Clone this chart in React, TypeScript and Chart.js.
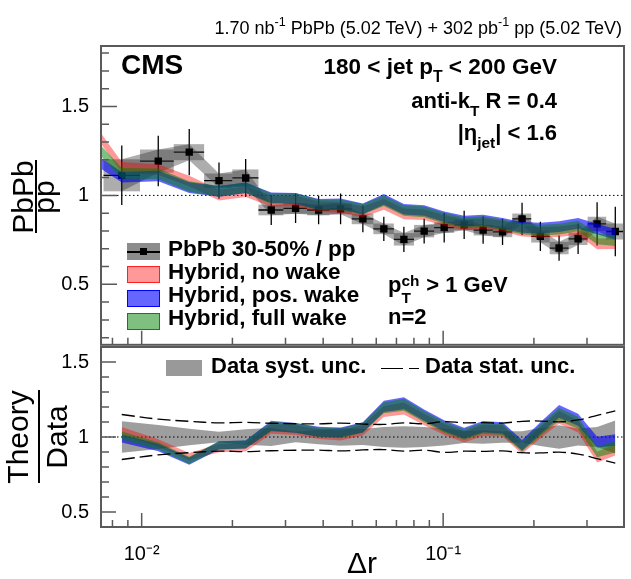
"use client";

import { useEffect, useRef } from "react";
import type { CSSProperties, ReactNode } from "react";
import { Chart, registerables } from "chart.js";

Chart.register(...registerables);

// Δr bin centres and the PbPb 30-50% / pp ratio
const deltaR = [
  0.00859, 0.01135, 0.01438, 0.01805, 0.02213, 0.0269, 0.0324, 0.03863, 0.04569, 0.05416, 0.06357, 0.07409,
  0.0865, 0.1008, 0.1174, 0.1357, 0.1574, 0.1827, 0.2101, 0.2424, 0.2803, 0.3241, 0.3724,
];
const ratioPbPb = [
  1.113, 1.193, 1.243, 1.083, 1.098, 0.918, 0.927, 0.918, 0.924, 0.868, 0.812, 0.753, 0.799, 0.819, 0.834, 0.805,
  0.795, 0.868, 0.77, 0.704, 0.756, 0.84, 0.797,
];
const statUnc = [
  0.167, 0.142, 0.13, 0.102, 0.107, 0.084, 0.082, 0.08, 0.086, 0.075, 0.068, 0.071, 0.07, 0.084, 0.079, 0.077, 0.074,
  0.091, 0.082, 0.071, 0.086, 0.121, 0.139,
];
const systUnc = [
  0.09, 0.065, 0.045, 0.04, 0.048, 0.03, 0.03, 0.03, 0.03, 0.03, 0.03, 0.035, 0.035, 0.03, 0.03, 0.03, 0.03, 0.03,
  0.035, 0.035, 0.035, 0.04, 0.045,
];
// relative syst. unc. shown around 1 in the ratio panel
const systRelUnc = [
  0.105, 0.08, 0.055, 0.035, 0.051, 0.06, 0.035, 0.048, 0.058, 0.053, 0.066, 0.072, 0.067, 0.056, 0.04, 0.045, 0.038,
  0.038, 0.06, 0.078, 0.056, 0.067, 0.11,
];

// Hybrid model, first point sits on the left edge of the axis
const hybridDeltaR = [
  0.00733, 0.00859, 0.01135, 0.01438, 0.01805, 0.02213, 0.0269, 0.0324, 0.03863, 0.04569, 0.05416, 0.06357, 0.07409,
  0.0865, 0.1008, 0.1174, 0.1357, 0.1574, 0.1827, 0.2101, 0.2424, 0.2803, 0.3241, 0.3724,
];
const hybridNoWake = [
  1.32, 1.158, 1.145, 1.081, 1.002, 1.021, 0.968, 0.969, 0.936, 0.933, 0.907, 0.95, 0.896, 0.891, 0.86, 0.834, 0.841,
  0.827, 0.799, 0.793, 0.796, 0.809, 0.727, 0.729,
];
const hybridPosWake = [
  1.18, 1.102, 1.109, 1.044, 1.023, 1.043, 0.987, 0.983, 0.95, 0.952, 0.924, 0.978, 0.922, 0.915, 0.88, 0.855, 0.861,
  0.843, 0.82, 0.816, 0.824, 0.843, 0.811, 0.781,
];
const hybridFullWake = [
  1.25, 1.124, 1.121, 1.05, 1.023, 1.043, 0.982, 0.983, 0.946, 0.947, 0.922, 0.97, 0.915, 0.907, 0.872, 0.847, 0.853,
  0.835, 0.812, 0.805, 0.81, 0.828, 0.756, 0.745,
];
const HYBRID_UNC = 0.03;

// axes
const xRange = [0.00733, 0.398];
const topRange = [0.16, 1.84];
const bottomRange = [0.4, 1.6];
const xMajorTicks = [0.01, 0.1];
const xTickLabels = ["10⁻²", "10⁻¹"];
const xMinorTicks = [0.008, 0.009, 0.02, 0.03, 0.04, 0.05, 0.06, 0.07, 0.08, 0.09, 0.2, 0.3];
const yMajorTicks = [0.5, 1, 1.5];
const topMinorTicks = [0.2, 0.3, 0.4, 0.6, 0.7, 0.8, 0.9, 1.1, 1.2, 1.3, 1.4, 1.6, 1.7, 1.8];
const bottomMinorTicks = [0.6, 0.7, 0.8, 0.9, 1.1, 1.2, 1.3, 1.4];

const FONT = "'Liberation Sans', Arial, Helvetica, sans-serif";
const AXIS = "#5a5a5a";
const SYST = "rgba(50,50,50,0.4)";
const RED = "rgba(255,0,0,0.4)";
const BLUE = "rgba(0,0,255,0.6)";
const GREEN = "rgba(0,128,0,0.5)";

const pts = (xs: number[], ys: number[]) => xs.map((x, i) => ({ x, y: ys[i] }));

function band(xs: number[], lo: number[], hi: number[], color: string, order: number) {
  const line = { borderColor: "transparent", borderWidth: 0, pointRadius: 0, tension: 0, order };
  return [
    { ...line, data: pts(xs, lo), fill: false },
    { ...line, data: pts(xs, hi), fill: "-1", backgroundColor: color },
  ];
}

const unityLine = (order: number) => ({
  data: pts(xRange, [1, 1]),
  borderColor: "#000",
  borderWidth: 1,
  borderDash: [1.5, 2.5],
  pointRadius: 0,
  fill: false,
  order,
});

function binEdges(xs: number[]) {
  const mids = xs.slice(1).map((x, i) => Math.sqrt(x * xs[i]));
  return xs.map((x, i) => [
    i === 0 ? (x * x) / mids[0] : mids[i - 1],
    i === xs.length - 1 ? (x * x) / mids[i - 1] : mids[i],
  ]);
}

// syst boxes, stat bars and bin-width bars of the data
const dataErrors = {
  id: "dataErrors",
  beforeDatasetsDraw(chart: any) {
    const { ctx, chartArea: a } = chart;
    const { x, y } = chart.scales;
    const edges = binEdges(deltaR);
    ctx.save();
    ctx.beginPath();
    ctx.rect(a.left, a.top, a.right - a.left, a.bottom - a.top);
    ctx.clip();
    ctx.fillStyle = SYST;
    edges.forEach(([lo, hi], i) => {
      const x0 = x.getPixelForValue(lo);
      const x1 = x.getPixelForValue(hi);
      const yt = y.getPixelForValue(ratioPbPb[i] + systUnc[i]);
      const yb = y.getPixelForValue(ratioPbPb[i] - systUnc[i]);
      ctx.fillRect(x0, yt, x1 - x0, yb - yt);
    });
    ctx.strokeStyle = "#000";
    ctx.lineWidth = 1.3;
    ctx.beginPath();
    edges.forEach(([lo, hi], i) => {
      const xc = x.getPixelForValue(deltaR[i]);
      const yc = y.getPixelForValue(ratioPbPb[i]);
      ctx.moveTo(x.getPixelForValue(lo), yc);
      ctx.lineTo(x.getPixelForValue(hi), yc);
      ctx.moveTo(xc, y.getPixelForValue(ratioPbPb[i] + statUnc[i]));
      ctx.lineTo(xc, y.getPixelForValue(ratioPbPb[i] - statUnc[i]));
    });
    ctx.stroke();
    ctx.restore();
  },
};

// ROOT style frame with ticks pointing inwards
function framePlugin(yMinor: number[], yMajorLen: number) {
  return {
    id: "frame",
    afterDraw(chart: any) {
      const { ctx, chartArea: a } = chart;
      const { x, y } = chart.scales;
      ctx.save();
      ctx.strokeStyle = AXIS;
      ctx.lineWidth = 1.5;
      ctx.beginPath();
      yMajorTicks.forEach((v) => {
        const p = y.getPixelForValue(v);
        ctx.moveTo(a.left, p);
        ctx.lineTo(a.left + yMajorLen, p);
      });
      yMinor.forEach((v) => {
        const p = y.getPixelForValue(v);
        ctx.moveTo(a.left, p);
        ctx.lineTo(a.left + 8, p);
      });
      xMajorTicks.forEach((v) => {
        const p = x.getPixelForValue(v);
        ctx.moveTo(p, a.bottom);
        ctx.lineTo(p, a.bottom - 14);
      });
      xMinorTicks.forEach((v) => {
        const p = x.getPixelForValue(v);
        ctx.moveTo(p, a.bottom);
        ctx.lineTo(p, a.bottom - 7);
      });
      ctx.stroke();
      ctx.lineWidth = 2;
      ctx.strokeRect(a.left, a.top, a.right - a.left, a.bottom - a.top);
      ctx.restore();
    },
  };
}

const noPadding = (s: any) => {
  s.paddingTop = 0;
  s.paddingBottom = 0;
  s.paddingLeft = 0;
  s.paddingRight = 0;
};

const yScale = (range: number[]) => ({
  type: "linear",
  min: range[0],
  max: range[1],
  grid: { display: false },
  border: { display: false },
  ticks: { color: "#000", padding: 4, font: { family: FONT, size: 20 }, callback: (v: number) => String(v) },
  afterBuildTicks: (s: any) => {
    s.ticks = yMajorTicks.map((value) => ({ value }));
  },
  afterFit: (s: any) => {
    s.width = 101;
    noPadding(s);
  },
});

const xScale = (showLabels: boolean) => ({
  type: "logarithmic",
  min: xRange[0],
  max: xRange[1],
  grid: { display: false },
  border: { display: false },
  ticks: {
    display: showLabels,
    color: "#000",
    padding: 7,
    autoSkip: false,
    maxRotation: 0,
    font: { family: FONT, size: 20 },
    callback: (_v: number, i: number) => xTickLabels[i],
  },
  afterBuildTicks: (s: any) => {
    s.ticks = xMajorTicks.map((value) => ({ value }));
  },
  afterFit: (s: any) => {
    s.height = showLabels ? 52 : 0;
    noPadding(s);
  },
});

const baseOptions = {
  animation: false,
  responsive: false,
  maintainAspectRatio: false,
  events: [],
  plugins: { legend: { display: false }, tooltip: { enabled: false } },
};

const hybridTop = (model: number[], color: string, order: number) =>
  band(
    hybridDeltaR,
    model.map((v) => v - HYBRID_UNC),
    model.map((v) => v + HYBRID_UNC),
    color,
    order
  );

const hybridRatio = (model: number[], color: string, order: number) =>
  band(
    deltaR,
    ratioPbPb.map((d, i) => (model[i + 1] - HYBRID_UNC) / d),
    ratioPbPb.map((d, i) => (model[i + 1] + HYBRID_UNC) / d),
    color,
    order
  );

const statLine = (sign: number) => ({
  data: pts(
    deltaR,
    statUnc.map((s, i) => 1 + (sign * s) / ratioPbPb[i])
  ),
  borderColor: "#000",
  borderWidth: 1.3,
  borderDash: [13, 5],
  pointRadius: 0,
  tension: 0.35,
  fill: false,
  order: 0,
});

const text = (size: number, bold = true): CSSProperties => ({
  fontFamily: FONT,
  fontSize: size,
  lineHeight: `${size}px`,
  fontWeight: bold ? 700 : 400,
  whiteSpace: "nowrap",
  color: "#000",
});

function Label(props: { x: number; base: number; size: number; bold?: boolean; right?: boolean; children: ReactNode }) {
  const { x, base, size, bold = true, right = false, children } = props;
  const style: CSSProperties = { position: "absolute", top: base - 0.8465 * size, ...text(size, bold) };
  if (right) style.right = 631 - x;
  else style.left = x;
  return <div style={style}>{children}</div>;
}

const Sub = ({ children }: { children: ReactNode }) => (
  <span style={{ fontSize: "0.7em", position: "relative", top: "0.5em", lineHeight: 0 }}>{children}</span>
);
const Sup = ({ children }: { children: ReactNode }) => (
  <span style={{ fontSize: "0.7em", position: "relative", top: "-0.6em", lineHeight: 0 }}>{children}</span>
);

function SubSup({ sub, sup, size }: { sub: string; sup: string; size: number }) {
  const s = size * 0.7;
  const small: CSSProperties = { position: "absolute", left: 0, fontSize: s, lineHeight: `${s}px` };
  return (
    <span style={{ position: "relative", display: "inline-block", width: size * 0.85, height: 0 }}>
      <span style={{ ...small, top: -0.3 * size - 0.8465 * s }}>{sup}</span>
      <span style={{ ...small, top: 0.5 * size - 0.8465 * s }}>{sub}</span>
    </span>
  );
}

function Fraction(props: { cx: number; cy: number; len: number; num: string; den: string; numTop: number; denTop: number }) {
  const { cx, cy, len, num, den, numTop, denTop } = props;
  const part: CSSProperties = { position: "absolute", left: -len / 2 - 20, width: len + 40, textAlign: "center", ...text(30, false) };
  return (
    <div style={{ position: "absolute", left: cx, top: cy, width: 0, height: 0, transform: "rotate(-90deg)" }}>
      <div style={{ ...part, top: numTop }}>{num}</div>
      <div style={{ position: "absolute", left: -len / 2, top: -1, width: len, height: 2, background: "#000" }} />
      <div style={{ ...part, top: denTop }}>{den}</div>
    </div>
  );
}

const swatch = (top: number, bg: string, border?: string): CSSProperties => ({
  position: "absolute",
  left: 127,
  top,
  width: 33,
  height: 17,
  boxSizing: "border-box",
  background: bg,
  border: border ? `1.5px solid ${border}` : "none",
});

export default function App() {
  const topRef = useRef<HTMLCanvasElement>(null);
  const bottomRef = useRef<HTMLCanvasElement>(null);

  useEffect(() => {
    if (!topRef.current || !bottomRef.current) return;

    const top = new Chart(topRef.current, {
      type: "line",
      data: {
        datasets: [
          ...band(
            deltaR,
            ratioPbPb.map((v, i) => v - systUnc[i]),
            ratioPbPb.map((v, i) => v + systUnc[i]),
            SYST,
            10
          ),
          unityLine(9),
          {
            data: pts(deltaR, ratioPbPb),
            showLine: false,
            pointStyle: "rect",
            pointRadius: 5.2,
            pointBackgroundColor: "#000",
            pointBorderWidth: 0,
            order: 8,
          },
          ...hybridTop(hybridNoWake, RED, 3),
          ...hybridTop(hybridPosWake, BLUE, 2),
          ...hybridTop(hybridFullWake, GREEN, 1),
        ],
      } as any,
      options: {
        ...baseOptions,
        layout: { padding: { left: 0, right: 7, top: 46, bottom: 3 } },
        scales: { x: xScale(false), y: yScale(topRange) },
      } as any,
      plugins: [dataErrors, framePlugin(topMinorTicks, 16)],
    });

    const bottom = new Chart(bottomRef.current, {
      type: "line",
      data: {
        datasets: [
          ...band(
            deltaR,
            systRelUnc.map((s) => 1 - s),
            systRelUnc.map((s) => 1 + s),
            "rgba(120,120,120,0.72)",
            10
          ),
          unityLine(9),
          ...hybridRatio(hybridNoWake, RED, 3),
          ...hybridRatio(hybridPosWake, BLUE, 2),
          ...hybridRatio(hybridFullWake, GREEN, 1),
          statLine(1),
          statLine(-1),
        ],
      } as any,
      options: {
        ...baseOptions,
        layout: { padding: { left: 0, right: 7, top: 7, bottom: 0 } },
        scales: { x: xScale(true), y: yScale(bottomRange) },
      } as any,
      plugins: [framePlugin(bottomMinorTicks, 15)],
    });

    return () => {
      top.destroy();
      bottom.destroy();
    };
  }, []);

  return (
    <div
      style={{ position: "absolute", left: 0, top: 0, width: 631, height: 579, background: "#fff", overflow: "hidden" }}
    >
      <canvas ref={topRef} width={631} height={350} style={{ position: "absolute", left: 0, top: 0 }} />
      <canvas ref={bottomRef} width={631} height={239} style={{ position: "absolute", left: 0, top: 340 }} />

      <Label x={622} base={34} size={18} bold={false} right>
        1.70 nb<Sup>-1</Sup> PbPb (5.02 TeV) + 302 pb<Sup>-1</Sup> pp (5.02 TeV)
      </Label>

      <Label x={121} base={75} size={28}>
        CMS
      </Label>
      <Label x={557} base={75} size={22.5} right>
        180 &lt; jet p<Sub>T</Sub> &lt; 200 GeV
      </Label>
      <Label x={557} base={109} size={22} right>
        anti-k<Sub>T</Sub> R = 0.4
      </Label>
      <Label x={557} base={141} size={22} right>
        |η<Sub>jet</Sub>| &lt; 1.6
      </Label>

      <div style={swatch(243, "#8c8c8c")} />
      <div style={{ position: "absolute", left: 127, top: 251, width: 33, height: 1.5, background: "#000" }} />
      <div style={{ position: "absolute", left: 140, top: 248, width: 7, height: 7, background: "#000" }} />
      <div style={swatch(266, RED, "#ff2020")} />
      <div style={swatch(289.5, BLUE, "#0000ff")} />
      <div style={swatch(313, GREEN, "#1a7a1a")} />
      <Label x={168} base={257} size={22.5}>
        PbPb 30-50% / pp
      </Label>
      <Label x={168} base={280} size={22.5}>
        Hybrid, no wake
      </Label>
      <Label x={168} base={303.5} size={22.5}>
        Hybrid, pos. wake
      </Label>
      <Label x={168} base={326.5} size={22.5}>
        Hybrid, full wake
      </Label>

      <Label x={388} base={293} size={22}>
        p<SubSup sub="T" sup="ch" size={22} /> &gt; 1 GeV
      </Label>
      <Label x={388} base={325} size={22}>
        n=2
      </Label>

      <div style={{ position: "absolute", left: 166, top: 360, width: 36, height: 16, background: "#999" }} />
      <Label x={211} base={374} size={22}>
        Data syst. unc.
      </Label>
      <div style={{ position: "absolute", left: 381, top: 367.5, width: 22, height: 1.5, background: "#000" }} />
      <div style={{ position: "absolute", left: 409, top: 367.5, width: 10, height: 1.5, background: "#000" }} />
      <Label x={425} base={374} size={22}>
        Data stat. unc.
      </Label>

      <Fraction cx={36} cy={196.5} len={73} num="PbPb" den="pp" numTop={-28} denTop={-7} />
      <Fraction cx={39} cy={436.5} len={93} num="Theory" den="Data" numTop={-36} denTop={3} />

      <div style={{ position: "absolute", left: 312, width: 100, textAlign: "center", top: 573 - 0.8465 * 30, ...text(30, false) }}>
        Δr
      </div>
    </div>
  );
}
